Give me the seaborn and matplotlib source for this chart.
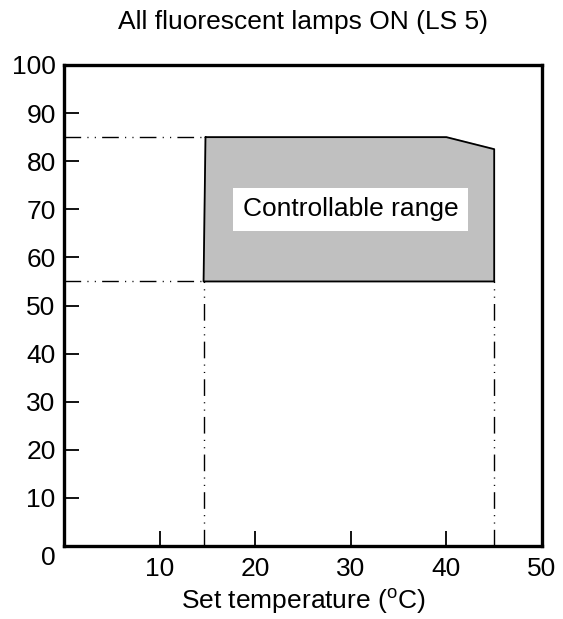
import matplotlib
matplotlib.use("Agg")
import matplotlib.pyplot as plt
import seaborn as sns
import pandas as pd

# Data
region_x = [14.8, 40, 45, 45, 14.6, 14.8]
region_y = [85, 85, 82.5, 55, 55, 85]
temp_low = 14.6
temp_high = 45
hum_low = 55
hum_high = 85
x_ticks = [10, 20, 30, 40, 50]
y_ticks = [10, 20, 30, 40, 50, 60, 70, 80, 90, 100]
title = "All fluorescent lamps ON (LS 5)"
region_label = "Controllable range"

sns.set_theme(style="white")
plt.rcParams['font.family'] = ['Liberation Sans', 'DejaVu Sans']
plt.rcParams['mathtext.fontset'] = 'custom'
plt.rcParams['mathtext.rm'] = 'Liberation Sans'
plt.rcParams['text.color'] = 'black'
plt.rcParams['ytick.right'] = False
plt.rcParams['xtick.top'] = False

FS = 19

fig = plt.figure(figsize=(5.63, 6.19), dpi=100)
ax = fig.add_axes([64/563, 1-546/619, (542-64)/563, (546-65)/619])

ax.fill(region_x, region_y, color="#c0c0c0", zorder=1)
df = pd.DataFrame({"x": region_x, "y": region_y, "o": range(len(region_x))})
sns.lineplot(data=df, x="x", y="y", sort=False, estimator=None, color="black",
             lw=1.3, ax=ax, zorder=2)

dash = (0, (12, 4.5, 0.8, 4.5, 0.8, 4.5))
for yv in [hum_low, hum_high]:
    ax.plot([0, temp_low], [yv, yv], color="black", lw=1.0, linestyle=dash, zorder=2)
for xv in [temp_low, temp_high]:
    ax.plot([xv, xv], [0, hum_low], color="black", lw=1.0, linestyle=dash, zorder=2)

ax.text(30, 70, region_label, fontsize=FS, ha="center", va="center", zorder=3,
        color="black", bbox=dict(facecolor="white", edgecolor="none", pad=7))

ax.set_xlim(0, 50)
ax.set_ylim(0, 100)
ax.set_xticks(x_ticks)
ax.set_yticks(y_ticks)
ax.set_xticklabels([str(v) for v in x_ticks], fontsize=FS)
ax.set_yticklabels([str(v) for v in y_ticks], fontsize=FS)
ax.xaxis.set_ticks_position('bottom')
ax.yaxis.set_ticks_position('left')
ax.tick_params(direction="in", length=11, width=1.3, color="black", labelcolor="black")
ax.tick_params(axis="x", pad=8)
ax.tick_params(axis="y", pad=6)
ax.text(-1.6, -2.5, "0", fontsize=FS, ha="center", va="center", clip_on=False, color="black")

for s in ax.spines.values():
    s.set_color("black")
    s.set_linewidth(2.4)

ax.set_xlabel(r"Set temperature ($^{\mathrm{o}}$C)", fontsize=FS, labelpad=4, color="black")
ax.set_ylabel("")
ax.set_title(title, fontsize=FS, pad=26, color="black")

fig.savefig("out.png", dpi=100)
